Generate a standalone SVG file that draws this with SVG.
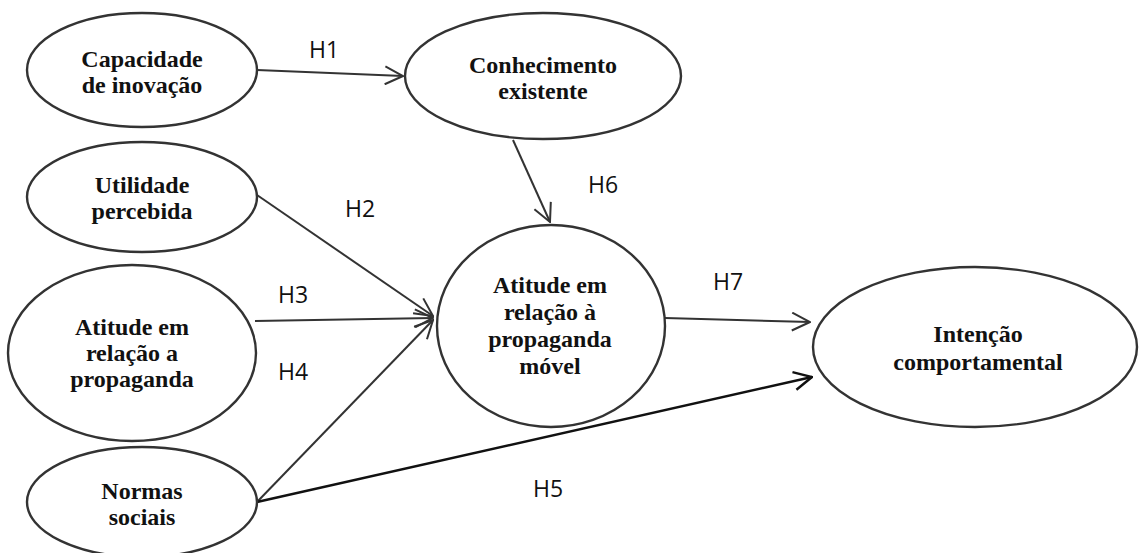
<svg xmlns="http://www.w3.org/2000/svg" width="1139" height="553" viewBox="0 0 1139 553">
<style>
.node ellipse{fill:#fff;stroke:#333;stroke-width:2.4}
.nt{font-family:"Liberation Serif","Times New Roman",serif;font-weight:bold;font-size:24px;fill:#111;text-anchor:middle}
.lbl{font-family:"Open Sans","Noto Sans",sans-serif;font-size:23px;fill:#111}
.edge{fill:none;stroke:#333;stroke-width:2;marker-end:url(#arr)}
.edge.dark{stroke:#111;stroke-width:2.4;marker-end:url(#arrd)}
</style>
<defs>
<marker id="arr" viewBox="0 0 20 20" refX="19" refY="10" markerWidth="20" markerHeight="20" markerUnits="userSpaceOnUse" orient="auto">
<path d="M1,1 L19,10 L1,19" fill="none" stroke="#333" stroke-width="2"/>
</marker>
<marker id="arrd" viewBox="0 0 20 20" refX="19" refY="10" markerWidth="20" markerHeight="20" markerUnits="userSpaceOnUse" orient="auto">
<path d="M1,1 L19,10 L1,19" fill="none" stroke="#111" stroke-width="2.4"/>
</marker>
</defs>
<rect width="1139" height="553" fill="#fff"/>
<g id="connectors">
<line class="edge" x1="257" y1="70" x2="403" y2="76"/>
<line class="edge" x1="257" y1="195" x2="433" y2="316"/>
<line class="edge" x1="255" y1="321" x2="433" y2="318"/>
<line class="edge" x1="257" y1="502" x2="433" y2="320"/>
<line class="edge dark" x1="257" y1="502" x2="812" y2="377"/>
<line class="edge" x1="513" y1="140" x2="550" y2="222"/>
<line class="edge" x1="665" y1="318" x2="810" y2="322"/>
</g>
<g id="labels">
<text class="lbl" x="309" y="58">H1</text>
<text class="lbl" x="345" y="217">H2</text>
<text class="lbl" x="278" y="303">H3</text>
<text class="lbl" x="278" y="380">H4</text>
<text class="lbl" x="533" y="497">H5</text>
<text class="lbl" x="588" y="193">H6</text>
<text class="lbl" x="713" y="290">H7</text>
</g>
<g id="capacidade" class="node">
<ellipse cx="142" cy="70" rx="115" ry="57"/>
<text class="nt" x="142" y="67">Capacidade</text>
<text class="nt" x="142" y="93">de inovação</text>
</g>
<g id="conhecimento" class="node">
<ellipse cx="543" cy="76" rx="138" ry="63"/>
<text class="nt" x="543" y="73">Conhecimento</text>
<text class="nt" x="543" y="99">existente</text>
</g>
<g id="utilidade" class="node">
<ellipse cx="142" cy="197" rx="115" ry="55"/>
<text class="nt" x="142" y="193">Utilidade</text>
<text class="nt" x="142" y="219">percebida</text>
</g>
<g id="atitude-propaganda" class="node">
<ellipse cx="132" cy="353" rx="124" ry="88"/>
<text class="nt" x="132" y="335">Atitude em</text>
<text class="nt" x="132" y="361">relação a</text>
<text class="nt" x="132" y="387">propaganda</text>
</g>
<g id="normas" class="node">
<ellipse cx="142" cy="502" rx="115" ry="55"/>
<text class="nt" x="142" y="499">Normas</text>
<text class="nt" x="142" y="525">sociais</text>
</g>
<g id="atitude-movel" class="node">
<ellipse cx="551" cy="326" rx="114" ry="101"/>
<text class="nt" x="550" y="293">Atitude em</text>
<text class="nt" x="550" y="320">relação à</text>
<text class="nt" x="550" y="347">propaganda</text>
<text class="nt" x="550" y="374">móvel</text>
</g>
<g id="intencao" class="node">
<ellipse cx="975" cy="347" rx="162" ry="80"/>
<text class="nt" x="978" y="342">Intenção</text>
<text class="nt" x="978" y="370">comportamental</text>
</g>
</svg>
